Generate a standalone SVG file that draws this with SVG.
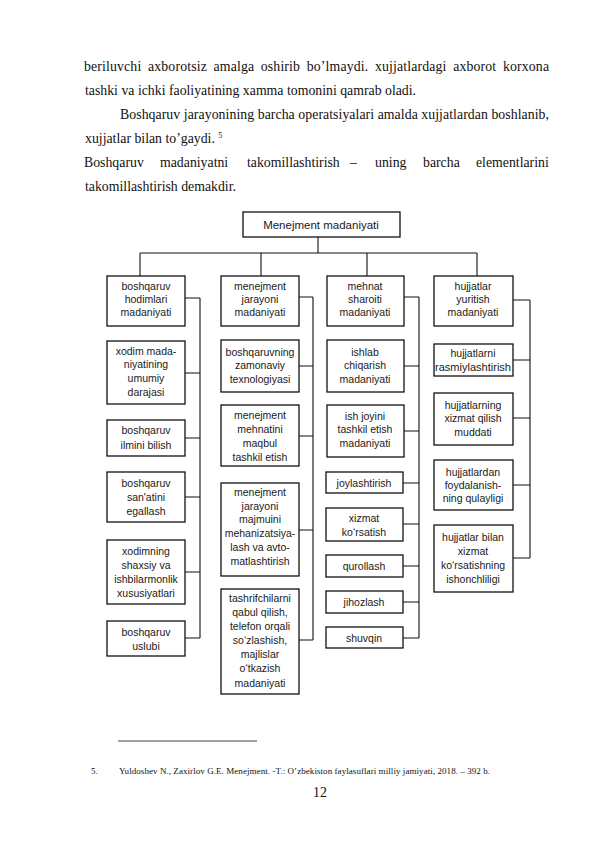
<svg xmlns="http://www.w3.org/2000/svg" width="595" height="842" viewBox="0 0 595 842">
<style>
.body{font-family:"Liberation Serif","Times New Roman",serif;font-size:13.8px;fill:#111}
.fn{font-family:"Liberation Serif","Times New Roman",serif;font-size:9px;fill:#111}
.box{fill:#fff;stroke:#111;stroke-width:1.3}
.t{font-family:"Liberation Sans",Arial,sans-serif;font-size:10.5px;fill:#1a1a1a;text-anchor:middle}
.tt{font-family:"Liberation Sans",Arial,sans-serif;font-size:11.5px;fill:#1a1a1a;text-anchor:middle}
.c{fill:none;stroke:#111;stroke-width:1.1}
</style>
<rect width="595" height="842" fill="#fff"/>
<g id="text">
<text class="body" x="84" y="71" textLength="465" lengthAdjust="spacing" word-spacing="3">beriluvchi axborotsiz amalga oshirib bo’lmaydi. xujjatlardagi axborot korxona</text>
<text class="body" x="85" y="95">tashki va ichki faoliyatining xamma tomonini qamrab oladi.</text>
<text class="body" x="120" y="119" textLength="429" lengthAdjust="spacing">Boshqaruv jarayonining barcha operatsiyalari amalda xujjatlardan boshlanib,</text>
<text class="body" x="85" y="143">xujjatlar bilan to’gaydi. <tspan font-size="8" dy="-5">5</tspan></text>
<text class="body" y="167"><tspan x="84">Boshqaruv</tspan><tspan x="160">madaniyatni</tspan><tspan x="247">takomillashtirish</tspan><tspan x="350">–</tspan><tspan x="375">uning</tspan><tspan x="423">barcha</tspan><tspan x="476">elementlarini</tspan></text>
<text class="body" x="85" y="191">takomillashtirish demakdir.</text>
</g>
<g id="connectors">
<path class="c" d="M318 237V253M140 253H477M140 253V276M261 253V276M367 253V276M477 253V276"/>
<path class="c" d="M185 298H200M185 373H200M185 438H200M185 497H200M185 572H200M185 638H200M200 298V638"/>
<path class="c" d="M299 297H313M299 366H313M299 436H313M299 530H313M299 640H313M313 297V640"/>
<path class="c" d="M404 297H419M404 366H419M404 431H419M403 483H419M403 524H419M403 566H419M403 602H419M403 638H419M419 297V638"/>
<path class="c" d="M513 300H530M513 360H530M513 418H530M513 485H530M513 558H530M530 300V558"/>
</g>
<g id="n0"><rect class="box" x="243" y="212" width="157" height="25"/><text class="tt" x="321" y="229">Menejment madaniyati</text></g>
<g id="c1a"><rect class="box" x="107" y="276" width="78" height="50"/><text class="t" x="146" y="290">boshqaruv</text><text class="t" x="146" y="303">hodimlari</text><text class="t" x="146" y="316">madaniyati</text></g>
<g id="c1b"><rect class="box" x="107" y="341" width="78" height="63"/><text class="t" x="146" y="355">xodim mada-</text><text class="t" x="146" y="368">niyatining</text><text class="t" x="146" y="382">umumiy</text><text class="t" x="146" y="396">darajasi</text></g>
<g id="c1c"><rect class="box" x="107" y="420" width="78" height="36"/><text class="t" x="146" y="434">boshqaruv</text><text class="t" x="146" y="449">ilmini bilish</text></g>
<g id="c1d"><rect class="box" x="107" y="472" width="78" height="50"/><text class="t" x="146" y="487">boshqaruv</text><text class="t" x="146" y="501">san'atini</text><text class="t" x="146" y="515">egallash</text></g>
<g id="c1e"><rect class="box" x="107" y="540" width="78" height="64"/><text class="t" x="146" y="555">xodimning</text><text class="t" x="146" y="569">shaxsiy va</text><text class="t" x="146" y="583">ishbilarmonlik</text><text class="t" x="146" y="597">xususiyatlari</text></g>
<g id="c1f"><rect class="box" x="107" y="621" width="78" height="35"/><text class="t" x="146" y="636">boshqaruv</text><text class="t" x="146" y="650">uslubi</text></g>
<g id="c2a"><rect class="box" x="221" y="276" width="78" height="50"/><text class="t" x="260" y="290">menejment</text><text class="t" x="260" y="303">jarayoni</text><text class="t" x="260" y="316">madaniyati</text></g>
<g id="c2b"><rect class="box" x="221" y="340" width="78" height="52"/><text class="t" x="260" y="356">boshqaruvning</text><text class="t" x="260" y="369">zamonaviy</text><text class="t" x="260" y="383">texnologiyasi</text></g>
<g id="c2c"><rect class="box" x="221" y="405" width="78" height="61"/><text class="t" x="260" y="419">menejment</text><text class="t" x="260" y="433">mehnatini</text><text class="t" x="260" y="447">maqbul</text><text class="t" x="260" y="461">tashkil etish</text></g>
<g id="c2d"><rect class="box" x="221" y="483" width="78" height="93"/><text class="t" x="260" y="496">menejment</text><text class="t" x="260" y="510">jarayoni</text><text class="t" x="260" y="523">majmuini</text><text class="t" x="260" y="537">mehanizatsiya-</text><text class="t" x="260" y="551">lash va avto-</text><text class="t" x="260" y="565">matlashtirish</text></g>
<g id="c2e"><rect class="box" x="221" y="589" width="78" height="105"/><text class="t" x="260" y="602">tashrifchilarni</text><text class="t" x="260" y="616">qabul qilish,</text><text class="t" x="260" y="630">telefon orqali</text><text class="t" x="260" y="644">so‘zlashish,</text><text class="t" x="260" y="658">majlislar</text><text class="t" x="260" y="672">o‘tkazish</text><text class="t" x="260" y="687">madaniyati</text></g>
<g id="c3a"><rect class="box" x="327" y="276" width="77" height="50"/><text class="t" x="365" y="290">mehnat</text><text class="t" x="365" y="303">sharoiti</text><text class="t" x="365" y="316">madaniyati</text></g>
<g id="c3b"><rect class="box" x="327" y="340" width="77" height="52"/><text class="t" x="365" y="356">ishlab</text><text class="t" x="365" y="369">chiqarish</text><text class="t" x="365" y="383">madaniyati</text></g>
<g id="c3c"><rect class="box" x="327" y="405" width="77" height="52"/><text class="t" x="365" y="420">ish joyini</text><text class="t" x="365" y="433">tashkil etish</text><text class="t" x="365" y="447">madaniyati</text></g>
<g id="c3d"><rect class="box" x="326" y="472" width="77" height="21"/><text class="t" x="364" y="487">joylashtirish</text></g>
<g id="c3e"><rect class="box" x="326" y="508" width="77" height="33"/><text class="t" x="364" y="522">xizmat</text><text class="t" x="364" y="536">ko‘rsatish</text></g>
<g id="c3f"><rect class="box" x="326" y="555" width="77" height="22"/><text class="t" x="364" y="570">qurollash</text></g>
<g id="c3g"><rect class="box" x="326" y="591" width="77" height="22"/><text class="t" x="364" y="606">jihozlash</text></g>
<g id="c3h"><rect class="box" x="326" y="627" width="77" height="21"/><text class="t" x="364" y="642">shuvqin</text></g>
<g id="c4a"><rect class="box" x="434" y="276" width="79" height="50"/><text class="t" x="473" y="290">hujjatlar</text><text class="t" x="473" y="303">yuritish</text><text class="t" x="473" y="316">madaniyati</text></g>
<g id="c4b"><rect class="box" x="434" y="344" width="79" height="32"/><text class="t" x="473" y="357">hujjatlarni</text><text class="t" x="473" y="371" textLength="76" lengthAdjust="spacingAndGlyphs">rasmiylashtirish</text></g>
<g id="c4c"><rect class="box" x="434" y="393" width="79" height="52"/><text class="t" x="473" y="409">hujjatlarning</text><text class="t" x="473" y="422">xizmat qilish</text><text class="t" x="473" y="436">muddati</text></g>
<g id="c4d"><rect class="box" x="434" y="460" width="79" height="50"/><text class="t" x="473" y="476">hujjatlardan</text><text class="t" x="473" y="489">foydalanish-</text><text class="t" x="473" y="502">ning qulayligi</text></g>
<g id="c4e"><rect class="box" x="434" y="525" width="79" height="67"/><text class="t" x="473" y="541">hujjatlar bilan</text><text class="t" x="473" y="555">xizmat</text><text class="t" x="473" y="569">ko‘rsatishning</text><text class="t" x="473" y="583">ishonchliligi</text></g>
<g id="footer">
<line x1="118" y1="741" x2="257" y2="741" stroke="#111" stroke-width="0.8"/>
<text class="fn" x="91" y="774">5.</text>
<text class="fn" x="119" y="774" textLength="371" lengthAdjust="spacing">Yuldoshev N., Zaxirlov G.E. Menejment. -T.: O’zbekiston faylasuflari milliy jamiyati, 2018. – 392 b.</text>
<text class="body" x="320" y="797" text-anchor="middle" font-size="12">12</text>
</g>
</svg>
